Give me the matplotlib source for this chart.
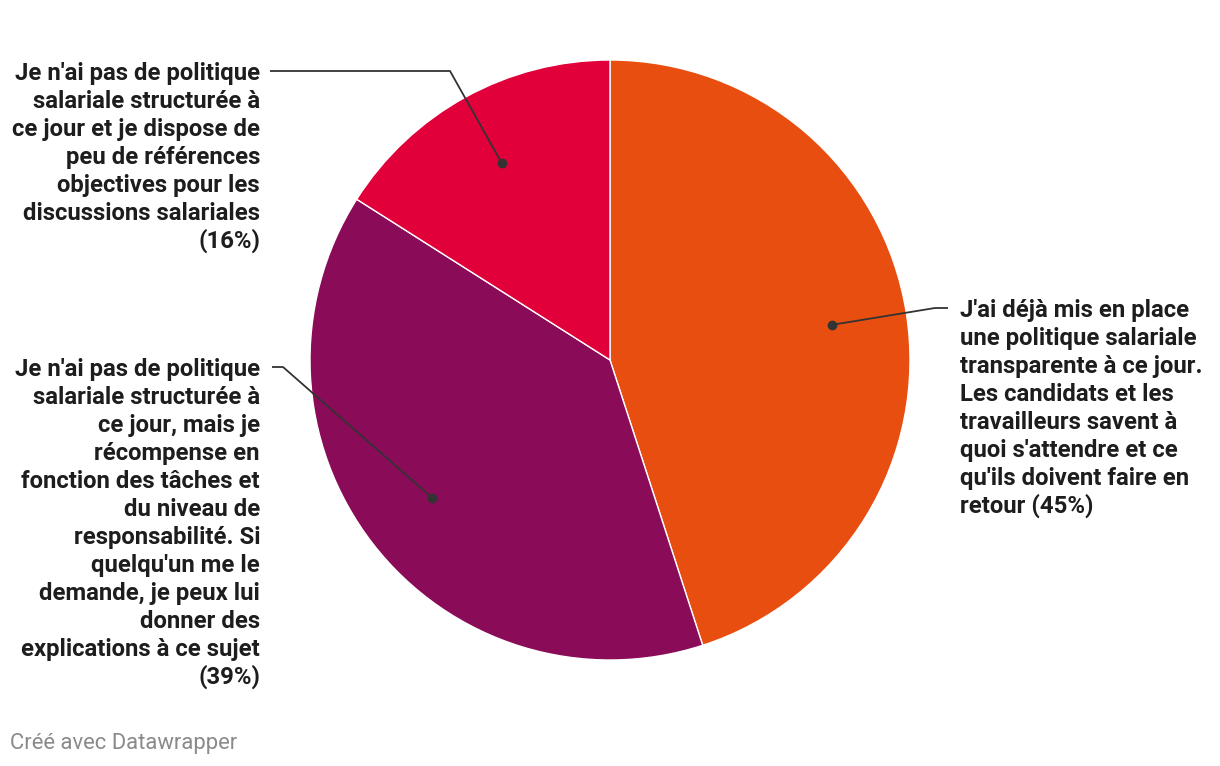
import numpy as np
import matplotlib
matplotlib.use("Agg")
import matplotlib.pyplot as plt

# data
labels = [
    ["J'ai déjà mis en place", "une politique salariale", "transparente à ce jour.",
     "Les candidats et les", "travailleurs savent à", "quoi s'attendre et ce",
     "qu'ils doivent faire en", "retour (45%)"],
    ["Je n'ai pas de politique", "salariale structurée à", "ce jour, mais je",
     "récompense en", "fonction des tâches et", "du niveau de",
     "responsabilité. Si", "quelqu'un me le", "demande, je peux lui",
     "donner des", "explications à ce sujet", "(39%)"],
    ["Je n'ai pas de politique", "salariale structurée à", "ce jour et je dispose de",
     "peu de références", "objectives pour les", "discussions salariales", "(16%)"],
]
values = [45, 39, 16]
colors = ["#e84e0f", "#8a0b58", "#e2003b"]

W, H = 1220, 766
fig = plt.figure(figsize=(W / 100, H / 100), dpi=100)
ax = fig.add_axes([0, 0, 1, 1])

# pixel coords, y measured from top of image
def py(y):
    return H - y

cx, cy, R = 610, py(360), 300
ax.pie(values, colors=colors, startangle=90, counterclock=False,
       center=(cx, cy), radius=R,
       wedgeprops=dict(edgecolor="white", linewidth=1))
ax.set_xlim(0, W)
ax.set_ylim(0, H)
ax.set_aspect("equal")
ax.axis("off")

# dots at 75% radius on each slice's mid angle
fr = np.array(values) / sum(values)
mids = 90 - 360 * (np.cumsum(fr) - fr / 2)
dots = [(cx + 0.75 * R * np.cos(np.radians(a)), cy + 0.75 * R * np.sin(np.radians(a))) for a in mids]

# label anchors: (text x, leader y, align, elbow points)
layout = [
    (960, 308, "left", [(948, 308), (935, 308)]),
    (260, 367, "right", [(272, 367), (283, 367)]),
    (260, 71, "right", [(270, 71), (450, 71)]),
]

txt_col = "#1d1d1d"
for lines, dot, (tx, ly, ha, elbow) in zip(labels, dots, layout):
    for k, line in enumerate(lines):
        ax.text(tx, py(ly + 9 + 28 * k), line, ha=ha, va="baseline",
                fontsize=17.2, fontweight="bold", family="Roboto", color=txt_col)
    xs = [p[0] for p in elbow] + [dot[0]]
    ys = [py(p[1]) for p in elbow] + [dot[1]]
    ax.plot(xs, ys, color="#333333", lw=1.3, solid_capstyle="butt")
    ax.plot(dot[0], dot[1], "o", color="#333333", ms=6)

ax.text(10, py(743), "Créé avec Datawrapper", ha="left", va="center",
        fontsize=15.8, family="Roboto", color="#8a8a8a")

fig.savefig("out.png", dpi=100)
